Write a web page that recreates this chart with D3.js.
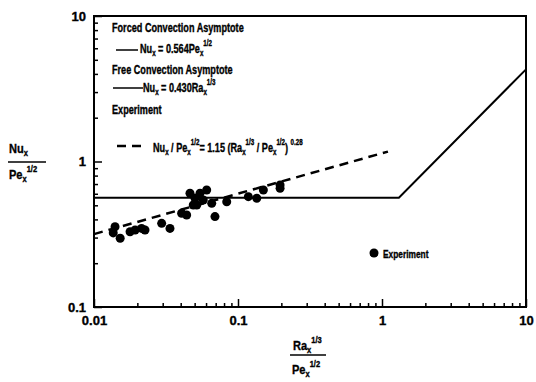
<!DOCTYPE html>
<html><head><meta charset="utf-8">
<script src="https://cdn.jsdelivr.net/npm/d3@7"></script>
<style>
body{margin:0;background:#fff;}
text{font-family:"Liberation Sans",Arial,sans-serif;font-weight:bold;fill:#000;stroke:#000;stroke-width:0.35px;}
</style></head>
<body><svg id="c" width="536" height="382"></svg>
<script>
// Experiment data: x = Ra^(1/3)/Pe^(1/2), y = Nu/Pe^(1/2)
const expX = [0.0136,0.014,0.0152,0.0178,0.0193,0.0214,0.0226,0.0295,0.0337,0.0406,0.044,0.0464,0.0489,0.0503,0.0517,0.0545,0.0574,0.0606,0.0657,0.0692,0.0835,0.118,0.135,0.15,0.196,0.196];
const expY = [0.323,0.356,0.297,0.329,0.338,0.347,0.338,0.376,0.347,0.441,0.429,0.605,0.502,0.559,0.502,0.605,0.544,0.637,0.516,0.418,0.529,0.573,0.559,0.637,0.654,0.69];
// Asymptote (forced 0.564 then free 0.430x)
const asymX = [0.01,1.31,10];
const asymY = [0.564,0.564,4.3];
// Correlation fit (dashed)
const fitX = [0.01,1.1];
const fitY = [0.317,1.17];
const xTicks = [0.01,0.1,1,10];
const xTickLabels = ["0.01","0.1","1","10"];
const yTicks = [0.1,1,10];
const yTickLabels = ["0.1","1","10"];

const svg = d3.select("#c");
const L=94,R=526,T=16,B=307;
const x = d3.scaleLog().domain([0.01,10]).range([L,R]);
const y = d3.scaleLog().domain([0.1,10]).range([B,T]);

function minors(lo,hi){const a=[];for(let d=lo;d<hi;d*=10)for(let k=2;k<=9;k++)a.push(d*k);return a;}

// axes
const gx = svg.append("g").attr("transform",`translate(0,${B})`);
gx.call(d3.axisBottom(x).tickValues(xTicks).tickSize(-8).tickPadding(9).tickFormat((d,i)=>xTickLabels[i]));
const gxm = svg.append("g").attr("transform",`translate(0,${B})`);
gxm.call(d3.axisBottom(x).tickValues(minors(0.01,10)).tickSize(-4).tickFormat(""));
const gy = svg.append("g").attr("transform",`translate(${L},0)`);
gy.call(d3.axisLeft(y).tickValues(yTicks).tickSize(-8).tickPadding(8).tickFormat((d,i)=>yTickLabels[i]));
const gym = svg.append("g").attr("transform",`translate(${L},0)`);
gym.call(d3.axisLeft(y).tickValues(minors(0.1,10)).tickSize(-4).tickFormat(""));
svg.selectAll(".domain").remove();
svg.selectAll(".tick line").attr("stroke","#000").attr("stroke-width",1.5);
svg.selectAll(".tick text").style("font-size","13px").style("font-family","'Liberation Sans',Arial,sans-serif").style("font-weight","bold");

svg.append("rect").attr("x",L).attr("y",T).attr("width",R-L).attr("height",B-T)
  .attr("fill","none").attr("stroke","#000").attr("stroke-width",2);

const line = d3.line().x(d=>x(d[0])).y(d=>y(d[1]));
svg.append("path").datum(d3.zip(asymX,asymY)).attr("d",line)
  .attr("fill","none").attr("stroke","#000").attr("stroke-width",2);
svg.append("path").datum(d3.zip(fitX,fitY)).attr("d",line)
  .attr("fill","none").attr("stroke","#000").attr("stroke-width",2.5).attr("stroke-dasharray","9,6");

svg.append("g").selectAll("circle").data(d3.zip(expX,expY)).join("circle")
  .attr("cx",d=>x(d[0])).attr("cy",d=>y(d[1])).attr("r",4.5).attr("fill","#000");

// rich text helper
function rich(px,py,parts,size,sx){
  const g = svg.append("g").attr("transform",`translate(${px},${py}) scale(${sx||0.76},1)`);
  const t = g.append("text").style("font-size",size+"px");
  let cur = 0;
  parts.forEach(p=>{
    const kind=p[1]||"n";
    let off = kind==="sub"?3:kind==="sup"?-7:0;
    const s = t.append("tspan").text(p[0]).attr("dy",off-cur);
    if(kind!=="n") s.style("font-size",(size*0.68)+"px");
    cur=off;
  });
  return g;
}

rich(112,32,[["Forced Convection Asymptote"]],12);
svg.append("line").attr("x1",116).attr("x2",138).attr("y1",50).attr("y2",50).attr("stroke","#000").attr("stroke-width",1.5);
rich(140,53,[["Nu"],["x","sub"],[" = 0.564Pe"],["x","sub"],["1/2","sup"]],12);
rich(112,74,[["Free Convection Asymptote"]],12);
svg.append("line").attr("x1",113).attr("x2",143).attr("y1",88).attr("y2",88).attr("stroke","#000").attr("stroke-width",1.5);
rich(143,92,[["Nu"],["x","sub"],[" = 0.430Ra"],["x","sub"],["1/3","sup"]],12);
rich(112,114,[["Experiment"]],12);
svg.append("line").attr("x1",117).attr("x2",146).attr("y1",146).attr("y2",146).attr("stroke","#000").attr("stroke-width",2.5).attr("stroke-dasharray","9,6");
rich(153,152,[["Nu"],["x","sub"],[" / Pe"],["x","sub"],["1/2","sup"],["= 1.15 (Ra"],["x","sub"],["1/3","sup"],[" / Pe"],["x","sub"],["1/2","sup"],[")  "],["0.28","sup"]],12);

svg.append("circle").attr("cx",374).attr("cy",253).attr("r",4.5).attr("fill","#000");
rich(383,258,[["Experiment"]],11);

// y axis title
rich(9,153,[["Nu"],["x","sub"]],13,0.85);
svg.append("line").attr("x1",8).attr("x2",46).attr("y1",162).attr("y2",162).attr("stroke","#000").attr("stroke-width",1.5);
rich(9,179,[["Pe"],["x","sub"],["1/2","sup"]],13,0.85);
// x axis title
rich(293,350,[["Ra"],["x","sub"],["1/3","sup"]],13,0.85);
svg.append("line").attr("x1",290).attr("x2",326).attr("y1",355).attr("y2",355).attr("stroke","#000").attr("stroke-width",1.5);
rich(292,374,[["Pe"],["x","sub"],["1/2","sup"]],13,0.85);
</script></body></html>
